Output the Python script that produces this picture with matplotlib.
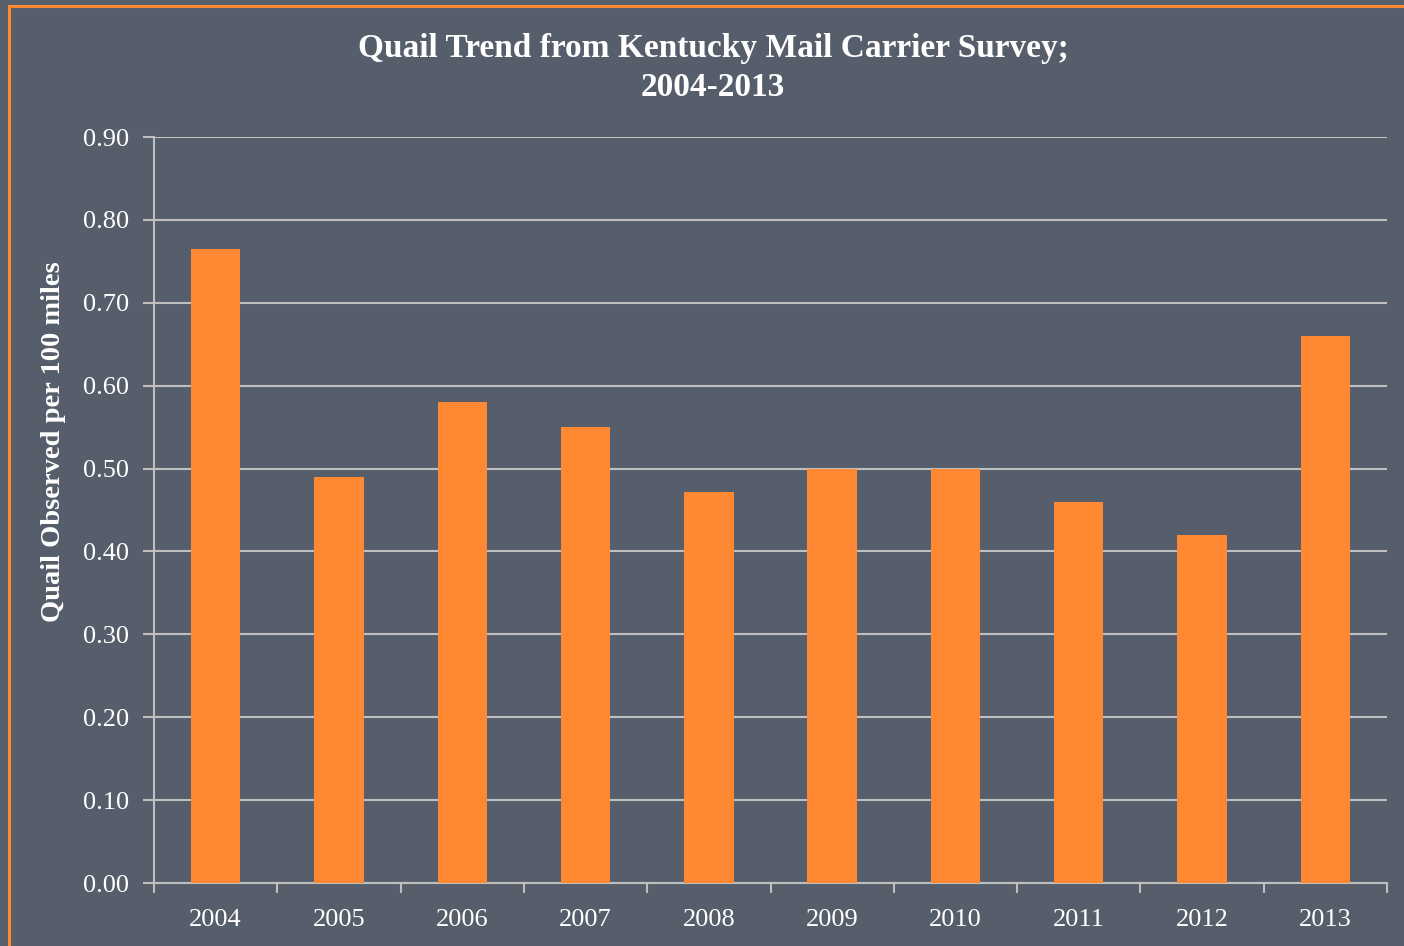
import matplotlib
matplotlib.use("Agg")
import matplotlib.pyplot as plt
from matplotlib.patches import Rectangle

years = ["2004", "2005", "2006", "2007", "2008", "2009", "2010", "2011", "2012", "2013"]
values = [0.765, 0.49, 0.58, 0.55, 0.472, 0.50, 0.50, 0.46, 0.42, 0.66]

BG = "#575E6B"
ORANGE = "#FF8833"
GRID = "#BFBFBF"
FONT = "Liberation Serif"

W, H = 1404, 946
fig = plt.figure(figsize=(W / 100, H / 100), dpi=100, facecolor=BG)

# orange frame (left and top edges visible)
fig.patches.append(Rectangle((9 / W, -0.1), 1.2, (H - 6) / H + 0.1, transform=fig.transFigure,
                             fill=False, edgecolor=ORANGE, linewidth=2.2, zorder=0))

ax = fig.add_axes([154 / W, 1 - 883 / H, (1387 - 154) / W, (883 - 137) / H], facecolor=BG)
x = list(range(len(years)))
ax.bar(x, values, width=0.4, color=ORANGE, zorder=3)
ax.set_xlim(-0.5, len(years) - 0.5)
ax.set_ylim(0, 0.9)
yt = [i / 10 for i in range(10)]
ax.set_yticks(yt)
ax.set_yticklabels([f"{v:.2f}" for v in yt], fontfamily=FONT, fontsize=19, color="white")
ax.set_xticks(x)
ax.set_xticklabels(years, fontfamily=FONT, fontsize=19, color="white")
ax.set_xticks([i - 0.5 for i in range(len(years) + 1)], minor=True)
ax.tick_params(axis="x", which="major", length=0, pad=19)
ax.tick_params(axis="x", which="minor", length=7, width=1.5, color=GRID, direction="out")
ax.tick_params(axis="y", length=8, width=1.5, color=GRID, direction="out", pad=10)
ax.grid(axis="y", color=GRID, linewidth=1.5, zorder=0)
for s in ["top", "right"]:
    ax.spines[s].set_visible(False)
for s in ["left", "bottom"]:
    ax.spines[s].set_color(GRID)
    ax.spines[s].set_linewidth(1.5)

ax.set_ylabel("Quail Observed per 100 miles", fontfamily=FONT, fontsize=20.5, fontweight="bold",
              color="white", va="center")
ax.yaxis.set_label_coords(-0.0815, 0.592)

fig.text(713 / W, 1 - 68 / H, "Quail Trend from Kentucky Mail Carrier Survey;\n2004-2013",
         ha="center", va="center", fontfamily=FONT, fontsize=24, fontweight="bold",
         color="white", linespacing=1.3)

fig.savefig("out.png", dpi=100, facecolor=BG)
